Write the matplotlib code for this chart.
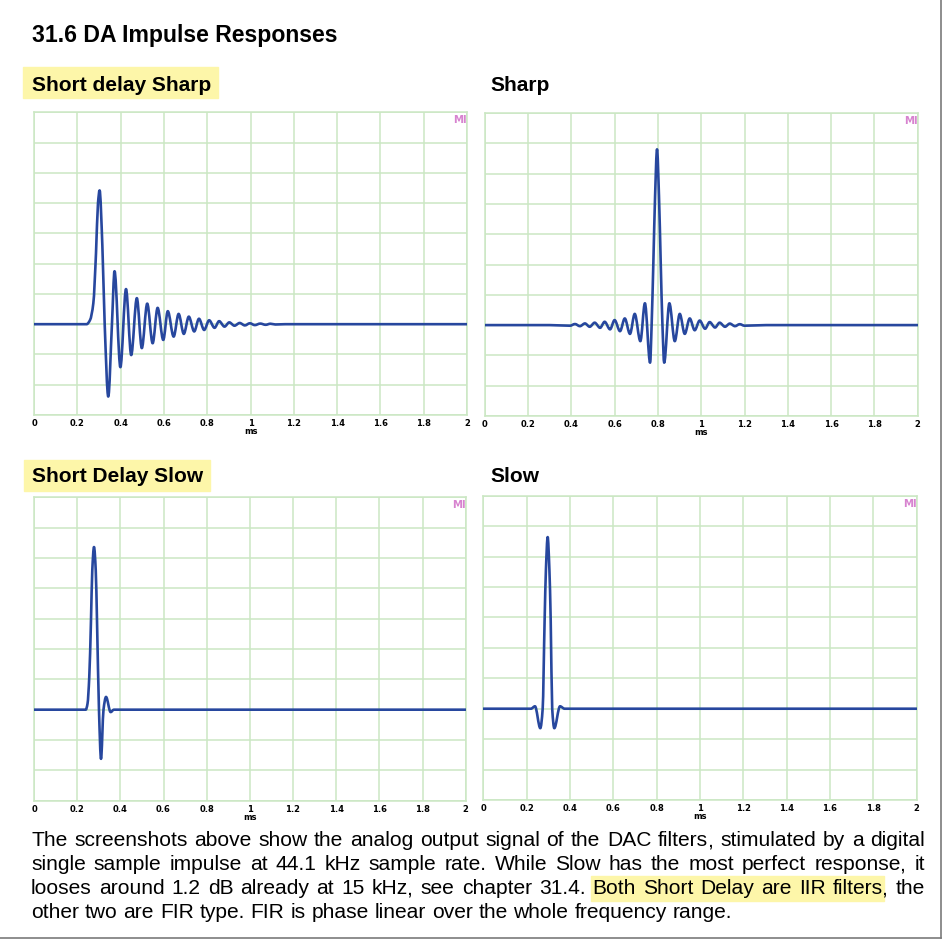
import matplotlib
matplotlib.use("Agg")
import numpy as np
import matplotlib.pyplot as plt
from matplotlib.patches import Rectangle, PathPatch
from matplotlib.path import Path
from matplotlib.lines import Line2D

# ---------------- data ----------------
x_ticks = [0, 0.2, 0.4, 0.6, 0.8, 1.0, 1.2, 1.4, 1.6, 1.8, 2.0]
x_tick_labels = ["0", "0.2", "0.4", "0.6", "0.8", "1", "1.2", "1.4", "1.6", "1.8", "2"]
x_unit = "ms"

titles = ["Short delay Sharp", "Sharp", "Short Delay Slow", "Slow"]
highlighted = [True, False, True, False]

# Short delay Sharp: time (ms) and amplitude (grid divisions) of the read points
sds_t = [0, 0.243, 0.259, 0.274, 0.2864, 0.2956, 0.303, 0.3157, 0.3265, 0.343,
         0.360, 0.372, 0.399, 0.425, 0.449, 0.475, 0.498, 0.523, 0.548, 0.571,
         0.597, 0.618, 0.645, 0.668, 0.692, 0.715, 0.740, 0.762, 0.786, 0.809,
         0.834, 0.855, 0.880, 0.902, 0.926, 0.950, 0.974, 0.997, 1.020, 1.045,
         1.070, 1.092, 1.115, 1.16, 2.0]
sds_v = [0, 0, 0.14, 0.69, 2.35, 4.0, 4.42, 2.6, 0.0, -2.39,
         0.0, 1.75, -1.42, 1.16, -1.02, 0.86, -0.79, 0.68, -0.63, 0.54,
         -0.52, 0.43, -0.41, 0.34, -0.32, 0.25, -0.24, 0.18, -0.19, 0.13,
         -0.12, 0.10, -0.08, 0.06, -0.05, 0.04, -0.04, 0.03, -0.03, 0.02,
         -0.02, 0.015, -0.01, 0.0, 0.0]

# Sharp (linear phase FIR)
sh_t = [0, 0.30, 0.394, 0.417, 0.440, 0.463, 0.485, 0.508, 0.533, 0.554,
        0.579, 0.600, 0.625, 0.647, 0.671, 0.693, 0.719, 0.740, 0.764, 0.771,
        0.779, 0.787, 0.796, 0.805, 0.813, 0.821, 0.829, 0.853, 0.878, 0.901,
        0.924, 0.947, 0.970, 0.993, 1.018, 1.039, 1.064, 1.085, 1.110, 1.132,
        1.156, 1.178, 1.200, 1.30, 2.0]
sh_v = [0, 0, -0.02, 0.035, -0.035, 0.055, -0.055, 0.08, -0.09, 0.11,
        -0.14, 0.165, -0.20, 0.22, -0.29, 0.37, -0.53, 0.72, -1.24, 0.0,
        2.06, 4.26, 5.80, 4.26, 2.06, 0.0, -1.24, 0.72, -0.53, 0.37,
        -0.29, 0.22, -0.17, 0.15, -0.12, 0.10, -0.08, 0.08, -0.055, 0.05,
        -0.035, 0.03, -0.02, 0.0, 0.0]

# Short Delay Slow
sdl_t = [0, 0.240, 0.248, 0.256, 0.264, 0.270, 0.278, 0.286, 0.292, 0.301,
         0.3105, 0.322, 0.3337, 0.355, 0.370, 2.0]
sdl_v = [0, 0, 0.2, 1.07, 2.94, 4.59, 5.36, 4.6, 2.9, 0.0,
         -1.62, 0.0, 0.42, -0.08, 0.0, 0.0]

# Slow (linear phase FIR)
sl_t = [0, 0.220, 0.2386, 0.263, 0.274, 0.283, 0.289, 0.297, 0.305, 0.311,
        0.318, 0.3277, 0.354, 0.375, 2.0]
sl_v = [0, 0, 0.08, -0.64, 0.0, 2.92, 4.57, 5.64, 4.57, 2.92,
        0.0, -0.64, 0.08, 0.0, 0.0]

series_t = [sds_t, sh_t, sdl_t, sl_t]
series_v = [sds_v, sh_v, sdl_v, sl_v]

paragraph_lines = [
    "The screenshots above show the analog output signal of the DAC filters, stimulated by a digital",
    "single sample impulse at 44.1 kHz sample rate. While Slow has the most perfect response, it",
    "looses around 1.2 dB already at 15 kHz, see chapter 31.4. Both Short Delay are IIR filters, the",
    "other two are FIR type. FIR is phase linear over the whole frequency range.",
]
highlight_phrase = "Both Short Delay are IIR filters"
page_title = "31.6 DA Impulse Responses"

# ---------------- styling ----------------
W, H = 946, 941
fig = plt.figure(figsize=(W / 100, H / 100), dpi=100)
fig.patch.set_facecolor("white")
FONT = "Liberation Sans"
GRID = "#cbe7c3"
LINE = "#27479e"
YELLOW = "#fdf6a9"


def fx(px):
    return px / W


def fy(py):
    return 1 - py / H


def smooth_curve(t, v):
    """Smooth Bezier path through the read points (shape-preserving tangents)."""
    t = np.asarray(t, float)
    v = np.asarray(v, float)
    h = np.diff(t)
    d = np.diff(v) / h
    m = np.zeros(len(t))
    for i in range(1, len(t) - 1):
        if d[i - 1] * d[i] > 0:
            w1 = 2 * h[i] + h[i - 1]
            w2 = h[i] + 2 * h[i - 1]
            m[i] = (w1 + w2) / (w1 / d[i - 1] + w2 / d[i])
    verts = [(t[0], v[0])]
    codes = [Path.MOVETO]
    for i in range(len(t) - 1):
        verts += [(t[i] + h[i] / 3, v[i] + m[i] * h[i] / 3),
                  (t[i + 1] - h[i] / 3, v[i + 1] - m[i + 1] * h[i] / 3),
                  (t[i + 1], v[i + 1])]
        codes += [Path.CURVE4] * 3
    return Path(verts, codes)


# axes boxes in pixels: left, top, right, bottom
boxes = [(34, 112.3, 467, 415), (484.7, 113, 917.7, 416),
         (34, 497.3, 465.7, 800.7), (483.3, 495.7, 916.7, 800)]

TICKFS = 6.0
for i, (l, t, r, b) in enumerate(boxes):
    ax = fig.add_axes([fx(l), fy(b), fx(r - l), (b - t) / H])
    ax.set_xlim(0, 2)
    ax.set_ylim(-3, 7)
    ax.set_xticks(x_ticks)
    ax.set_xticklabels(x_tick_labels, fontsize=TICKFS, fontweight="bold",
                       family="DejaVu Sans")
    ax.set_yticks(range(-3, 8))
    ax.tick_params(axis="y", length=0, labelleft=False)
    ax.tick_params(axis="x", length=0, pad=3.2)
    ax.grid(True, color=GRID, lw=1.1)
    ax.set_axisbelow(True)
    for s in ax.spines.values():
        s.set_color(GRID)
        s.set_linewidth(1.1)
    ax.set_xlabel(x_unit, fontsize=TICKFS, fontweight="bold", family="DejaVu Sans",
                  labelpad=-0.8)
    ax.add_patch(PathPatch(smooth_curve(series_t[i], series_v[i]), fill=False,
                           edgecolor=LINE, lw=1.9, joinstyle="round",
                           capstyle="round", zorder=3))
    ax.text(1.0, 0.99, "MI", transform=ax.transAxes, ha="right", va="top",
            fontsize=7.3, fontweight="bold", color="#d783cf", family="DejaVu Sans")

# page title
fig.text(fx(31.5), fy(41.7), page_title, fontsize=16.6, fontweight="bold",
         family=FONT, va="baseline")

# sub headings
head_pos = [(31.5, 90.7), (490, 90.7), (31.5, 482), (490, 482)]
hl_boxes = [(22.7, 67.3, 218.3, 98.3), None, (24, 459.5, 209.5, 490.5), None]
for i, name in enumerate(titles):
    x0, yb = head_pos[i]
    if highlighted[i]:
        l, t, r, b = hl_boxes[i]
        fig.patches.append(Rectangle((fx(l), fy(b)), fx(r - l), (b - t) / H,
                                     transform=fig.transFigure, color=YELLOW,
                                     zorder=0))
    fig.text(fx(x0), fy(yb), name, fontsize=15.0, fontweight="bold",
             family=FONT, va="baseline")

# justified paragraph
fig.canvas.draw()
renderer = fig.canvas.get_renderer()


def width_of(s, fs):
    tt = fig.text(0, 0, s, fontsize=fs, family=FONT)
    w = tt.get_window_extent(renderer).width
    tt.remove()
    return w


def put_word(xpx, ybase, word, fs):
    # trailing comma drawn on its own so every word sits on the same baseline
    core = word[:-1] if word.endswith(",") else word
    fig.text(fx(xpx), fy(ybase), core, fontsize=fs, family=FONT,
             va="baseline", zorder=3)
    if core != word:
        cx = xpx + width_of(core + "a", fs) - width_of("a", fs) - 1.3
        fig.text(fx(cx), fy(ybase), ",", fontsize=fs, family=FONT,
                 va="baseline", zorder=3)


left_px, right_px = 31, 925
# size the font so that the last (unjustified) line ends where it does in the reference
FS = 10 * (732 - left_px) / width_of(paragraph_lines[-1], 10)
space_w = width_of("a a", FS) - width_of("aa", FS)
baselines = [846.5, 870.3, 894.1, 917.6]
for li, line in enumerate(paragraph_lines):
    words = line.split(" ")
    widths = [width_of(w, FS) for w in words]
    if li < len(paragraph_lines) - 1:
        gap = (right_px - left_px - sum(widths)) / (len(words) - 1)
    else:
        gap = space_w
    xpos = left_px
    starts = []
    for w, wd in zip(words, widths):
        starts.append(xpos)
        put_word(xpos, baselines[li], w, FS)
        xpos += wd + gap
    if highlight_phrase in line:
        hw = highlight_phrase.split(" ")
        k = words.index(hw[0])
        x_start = starts[k] - 2
        last = k + len(hw) - 1
        x_end = starts[last] + width_of(hw[-1], FS) + 1.5
        fig.patches.append(Rectangle((fx(x_start), fy(baselines[li] + 7)),
                                     fx(x_end - x_start), 25 / H,
                                     transform=fig.transFigure, color=YELLOW,
                                     zorder=0))

# page border (right and bottom)
fig.lines.append(Line2D([fx(940.5), fx(940.5)], [fy(0), fy(937.5)],
                        transform=fig.transFigure, color="#7a7a7a", lw=1.2))
fig.lines.append(Line2D([fx(0), fx(940.5)], [fy(937.5), fy(937.5)],
                        transform=fig.transFigure, color="#7a7a7a", lw=1.2))

fig.savefig("out.png", dpi=100, facecolor="white")
